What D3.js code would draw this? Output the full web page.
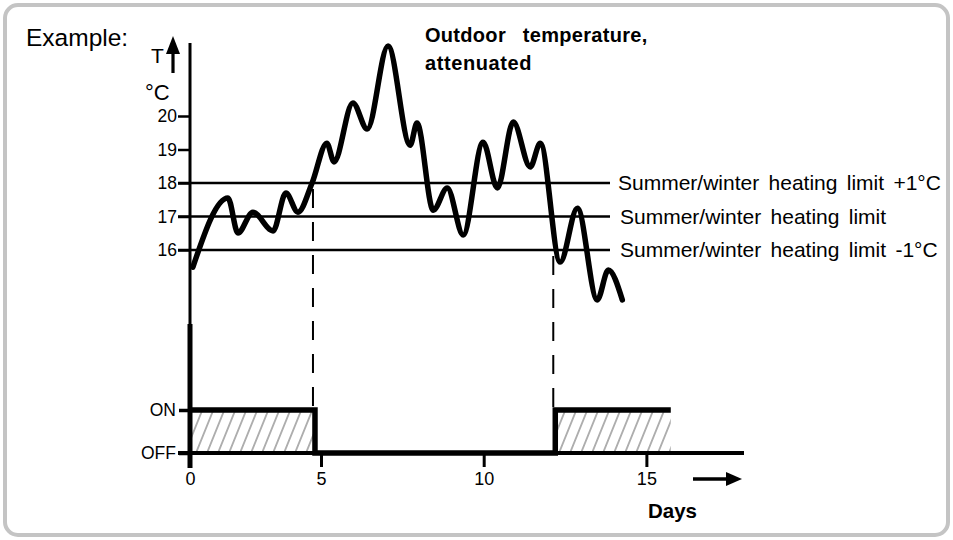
<!DOCTYPE html>
<html>
<head>
<meta charset="utf-8">
<script src="https://cdn.jsdelivr.net/npm/d3@7"></script>
<style>
  html, body { margin: 0; padding: 0; background: #fff; }
  svg { display: block; font-family: "Liberation Sans", Arial, sans-serif; }
</style>
</head>
<body>
<svg id="chart" width="953" height="540"></svg>
<script>
// Attenuated outdoor temperature over the days (°C)
const dayValues  = [0.11, 1.45, 1.83, 2.40, 3.17, 3.66, 4.12, 4.66, 5.18, 5.40, 5.98, 6.42, 7.06,
                    7.74, 7.95, 8.45, 8.88, 9.37, 9.98, 10.42, 10.91, 11.43, 11.74, 12.35, 12.88,
                    13.49, 13.83, 14.26];
const tempValues = [15.49, 17.55, 16.51, 17.13, 16.57, 17.70, 17.13, 18.00, 19.19, 18.63, 20.39,
                    19.61, 22.09, 19.13, 19.79, 17.19, 17.85, 16.45, 19.22, 17.85, 19.82, 18.48,
                    19.19, 15.64, 17.25, 14.51, 15.40, 14.51];

// Heating limit lines and their labels
const limitTemps  = [18, 17, 16];
const limitLabels = ["Summer/winter heating limit +1°C",
                     "Summer/winter heating limit",
                     "Summer/winter heating limit -1°C"];

// Heating state changes: day at which each state begins (last entry closes the run)
const switchDays   = [0, 4.77, 12.2, 15.75];
const switchStates = [1, 0, 1, 1];
const stateLabels  = ["OFF", "ON"];

// Tick labels
const tempTicks = [16, 17, 18, 19, 20];
const dayTicks  = [0, 5, 10, 15];

const FONT = "'Liberation Sans', Arial, sans-serif";
const svg = d3.select("#chart");

// frame
svg.append("rect")
  .attr("x", 5).attr("y", 5).attr("width", 943).attr("height", 530)
  .attr("rx", 13).attr("ry", 13)
  .attr("fill", "#fff").attr("stroke", "#c4c4c4").attr("stroke-width", 4);

// scales
const xDay   = d3.scaleLinear().domain([0, 5, 18]).range([190, 321, 744]);
const yTemp  = d3.scaleLinear().domain([16, 20]).range([250, 116]);
const yState = d3.scaleLinear().domain([0, 1]).range([453, 410]);

// hatch pattern for the heating-on periods
const defs = svg.append("defs");
const pat = defs.append("pattern")
  .attr("id", "hatch").attr("patternUnits", "userSpaceOnUse")
  .attr("width", 11).attr("height", 11)
  .attr("patternTransform", "skewX(-22)");
pat.append("line")
  .attr("x1", 5).attr("y1", -1).attr("x2", 5).attr("y2", 12)
  .attr("stroke", "#6a6a6a").attr("stroke-width", 1.1);

// ---- upper panel: temperature ----
const tempAxis = svg.append("g")
  .attr("transform", `translate(${xDay(0)},0)`)
  .call(d3.axisLeft(yTemp).tickValues(tempTicks).tickSize(12).tickPadding(1).tickFormat(d3.format("d")));
tempAxis.select(".domain").remove();
tempAxis.selectAll(".tick line").attr("stroke", "#000").attr("stroke-width", 2.5);
tempAxis.selectAll(".tick text").attr("fill", "#000").style("font-size", "17.5px").style("font-family", FONT);

// vertical temperature axis
svg.append("line")
  .attr("x1", xDay(0)).attr("x2", xDay(0)).attr("y1", 43).attr("y2", 325)
  .attr("stroke", "#000").attr("stroke-width", 3);

// axis title: T with upward arrow, unit
svg.append("text").attr("x", 151).attr("y", 63).style("font-size", "21px").text("T");
svg.append("line").attr("x1", 173).attr("x2", 173).attr("y1", 73).attr("y2", 50)
  .attr("stroke", "#000").attr("stroke-width", 3.2);
svg.append("path").attr("d", "M173,36 L180,54 L166,54 Z").attr("fill", "#000");
svg.append("text").attr("x", 145).attr("y", 100).style("font-size", "22px").text("°C");

svg.append("text").attr("x", 26).attr("y", 46).style("font-size", "24.5px").text("Example:");

// heating limit lines
svg.selectAll("line.limit").data(limitTemps).join("line")
  .attr("class", "limit")
  .attr("x1", 178).attr("x2", 610)
  .attr("y1", d => yTemp(d)).attr("y2", d => yTemp(d))
  .attr("stroke", "#000").attr("stroke-width", 2.6);

svg.selectAll("text.limit").data(limitLabels).join("text")
  .attr("class", "limit")
  .attr("x", (d, i) => i === 0 ? 618 : 620)
  .attr("y", (d, i) => yTemp(limitTemps[i]) + 7)
  .style("font-size", "21px").style("word-spacing", "3.5px")
  .text(d => d);

// switching points (dashed)
const dashData = [
  { day: switchDays[1], top: yTemp(limitTemps[0]) },
  { day: switchDays[2], top: yTemp(limitTemps[2]) }
];
svg.selectAll("line.switch").data(dashData).join("line")
  .attr("class", "switch")
  .attr("x1", d => xDay(d.day) - 2).attr("x2", d => xDay(d.day) - 2)
  .attr("y1", d => d.top + 6).attr("y2", yState(1))
  .attr("stroke", "#000").attr("stroke-width", 2)
  .attr("stroke-dasharray", "19,14");

// temperature curve
const tempLine = d3.line()
  .x((d, i) => xDay(dayValues[i]))
  .y(d => yTemp(d))
  .curve(d3.curveMonotoneX);
svg.append("path")
  .datum(tempValues)
  .attr("d", tempLine)
  .attr("fill", "none").attr("stroke", "#000")
  .attr("stroke-width", 5.5).attr("stroke-linecap", "round").attr("stroke-linejoin", "round");

svg.append("text").attr("x", 425).attr("y", 42)
  .style("font-size", "20px").style("font-weight", "bold").style("word-spacing", "11px")
  .style("letter-spacing", "0.3px")
  .text("Outdoor temperature,");
svg.append("text").attr("x", 425).attr("y", 70)
  .style("font-size", "20px").style("font-weight", "bold").style("letter-spacing", "0.6px")
  .text("attenuated");

// ---- lower panel: heating state ----
const onRuns = d3.range(switchDays.length - 1)
  .filter(i => switchStates[i] === 1)
  .map(i => ({ from: switchDays[i], to: switchDays[i + 1] }));

svg.selectAll("rect.on").data(onRuns).join("rect")
  .attr("class", "on")
  .attr("x", d => xDay(d.from)).attr("width", d => xDay(d.to) - xDay(d.from))
  .attr("y", yState(1)).attr("height", yState(0) - yState(1))
  .attr("fill", "url(#hatch)");

// day axis
const dayAxis = svg.append("g")
  .attr("transform", `translate(0,${yState(0)})`)
  .call(d3.axisBottom(xDay).tickValues(dayTicks).tickSize(14).tickPadding(5).tickFormat(d3.format("d")));
dayAxis.select(".domain").remove();
dayAxis.selectAll(".tick line").attr("stroke", "#000").attr("stroke-width", 3);
dayAxis.selectAll(".tick text").attr("fill", "#000").style("font-size", "18px").style("font-family", FONT);

svg.append("line")
  .attr("x1", 178).attr("x2", xDay(18)).attr("y1", yState(0)).attr("y2", yState(0))
  .attr("stroke", "#000").attr("stroke-width", 4);

// state axis
const stateAxis = svg.append("g")
  .attr("transform", `translate(${xDay(0)},0)`)
  .call(d3.axisLeft(yState).tickValues([1, 0]).tickSize(11).tickPadding(3).tickFormat(d => stateLabels[d]));
stateAxis.select(".domain").remove();
stateAxis.selectAll(".tick line").attr("stroke", "#000").attr("stroke-width", 3.5);
stateAxis.selectAll(".tick text").attr("fill", "#000").style("font-size", "17.5px").style("font-family", FONT);

svg.append("line")
  .attr("x1", xDay(0)).attr("x2", xDay(0)).attr("y1", 324).attr("y2", 468)
  .attr("stroke", "#000").attr("stroke-width", 5);

// heating step line
const stepLine = d3.line()
  .x((d, i) => xDay(switchDays[i]))
  .y(d => yState(d))
  .curve(d3.curveStepAfter);
svg.append("path")
  .datum(switchStates)
  .attr("d", stepLine)
  .attr("fill", "none").attr("stroke", "#000")
  .attr("stroke-width", 5.5).attr("stroke-linejoin", "miter");

// time arrow and label
svg.append("line").attr("x1", 693).attr("x2", 730).attr("y1", 479).attr("y2", 479)
  .attr("stroke", "#000").attr("stroke-width", 3.5);
svg.append("path").attr("d", "M742,479 L726,472 L726,486 Z").attr("fill", "#000");
svg.append("text").attr("x", 648).attr("y", 518)
  .style("font-size", "20.5px").style("font-weight", "bold").text("Days");
</script>
</body>
</html>
